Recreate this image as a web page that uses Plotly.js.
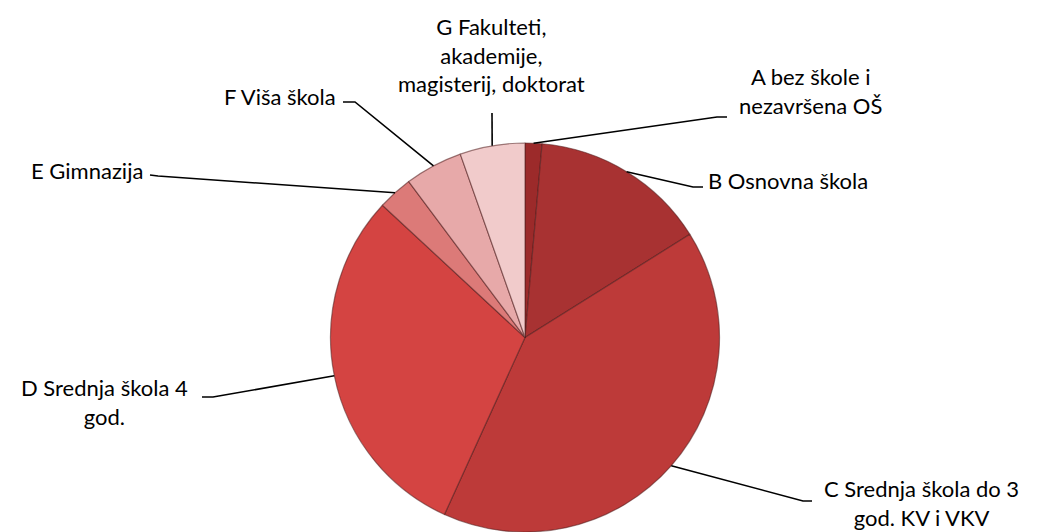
<!DOCTYPE html>
<html><head><meta charset="utf-8">
<script src="https://cdn.plot.ly/plotly-3.0.1.min.js"></script>
<style>html,body{margin:0;padding:0;background:#fff;overflow:hidden}#chart{width:1038px;height:532px}</style>
</head><body><div id="chart"></div>
<script>
// ---- data ----
const categories = ["A bez škole i nezavršena OŠ", "B Osnovna škola", "C Srednja škola do 3 god. KV i VKV",
  "D Srednja škola 4 god.", "E Gimnazija", "F Viša škola", "G Fakulteti, akademije, magisterij, doktorat"];
const labelTexts = ["A bez škole i<br>nezavršena OŠ", "B Osnovna škola", "C Srednja škola do 3<br>god. KV i VKV",
  "D Srednja škola 4<br>god.", "E Gimnazija", "F Viša škola", "G Fakulteti,<br>akademije,<br>magisterij, doktorat"];
const shares = [1.4, 14.7, 40.7, 30.1, 2.9, 4.8, 5.4];
const sliceColors = ["#9c2a2a", "#a83232", "#bd3a39", "#d44442", "#dc7a78", "#e7a9a9", "#f1cbcb"];

// ---- layout constants (pixels) ----
const W = 1038, H = 532;
const domX = [0.317, 0.6946], domY = [0, 0.7312];
// label anchor: [x, y, xanchor, align]
const labelPos = [
  [810, 91, "center", "center"],
  [706, 180, "left", "left"],
  [921, 503, "center", "center"],
  [104, 402, "center", "center"],
  [145, 170, "right", "right"],
  [338, 96, "right", "right"],
  [491, 55, "center", "center"]
];
// leader: [textSideX, textSideY, elbowX, elbowY]
const leaderPos = [
  [727, 117, 717, 117],
  [703, 187, 693, 187],
  [812, 501, 803, 501],
  [202, 397, 213, 397],
  [150, 175, 158, 176],
  [343, 102, 355, 102],
  [492, 113, 492, 113]
];

const px = x => x / W, py = y => 1 - y / H;
const pw = W * (domX[1] - domX[0]), ph = H * (domY[1] - domY[0]);
const r = Math.min(pw, ph) / 2;
const cx = W * (domX[0] + domX[1]) / 2, cy = H * (1 - (domY[0] + domY[1]) / 2);
const total = shares.reduce((a, b) => a + b, 0);

const annotations = [], shapes = [];
let cum = 0;
shares.forEach((v, i) => {
  const th = 2 * Math.PI * (cum + v / 2) / total;
  cum += v;
  const ex = cx + r * Math.sin(th), ey = cy - r * Math.cos(th);
  const [tx, ty, bx, by] = leaderPos[i];
  shapes.push({type: "path", xref: "paper", yref: "paper",
    path: `M${px(tx)},${py(ty)} L${px(bx)},${py(by)} L${px(ex)},${py(ey)}`,
    line: {color: "#000", width: 1.6}});
  const [lx, ly, xa, al] = labelPos[i];
  annotations.push({xref: "paper", yref: "paper", x: px(lx), y: py(ly), xanchor: xa, yanchor: "middle",
    align: al, text: labelTexts[i], showarrow: false, font: {family: "Lato, sans-serif", size: 22, color: "#000"}});
});

const trace = {
  type: "pie", labels: categories, values: shares, sort: false, direction: "clockwise", rotation: 0,
  textinfo: "none", hoverinfo: "label+percent",
  marker: {colors: sliceColors, line: {color: "rgba(80,30,30,0.55)", width: 1.2}},
  domain: {x: domX, y: domY}, showlegend: false
};
Plotly.newPlot("chart", [trace], {
  width: W, height: H, margin: {l: 0, r: 0, t: 0, b: 0},
  paper_bgcolor: "#fff", plot_bgcolor: "#fff", showlegend: false,
  annotations: annotations, shapes: shapes
}, {displayModeBar: false, staticPlot: true});
</script></body></html>
